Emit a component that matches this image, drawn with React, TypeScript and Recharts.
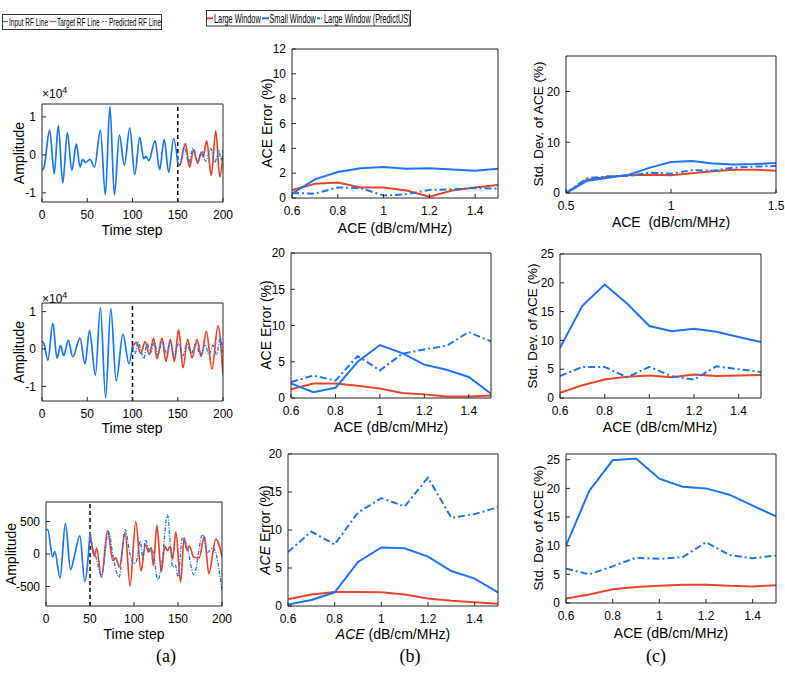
import React from "react";
import { LineChart, Line, XAxis, YAxis, ReferenceLine } from "recharts";

const FONT = '"Liberation Sans", Arial, Helvetica, sans-serif';
const BLUE = "#1c74f2";
const RED = "#e8442a";
const FRAME = "#262626";
const DASHDOT = "7 3 2 3";

// ---- column (a): RF lines, [time step, amplitude] read at extrema ----
const a1Input = [[0, -0.4], [2, -0.35], [8.5, 0.65], [13.5, -0.5], [18, 0.77], [23, -0.74], [28, 0.59], [33, -0.41], [38, 0.29], [42, -0.32], [45, -0.12], [48, -0.2], [53, -0.12], [58, -0.32], [64.5, 0.65], [70, -1.05], [75, 1.28], [80, -1.05], [85.5, 0.52], [91, -0.27], [97, 0.71], [102.5, -0.52], [108, 0.46], [112.5, -0.1], [115, -0.04], [118, -0.15], [125, 0.37], [130, -0.39], [135, 0.41], [140, -0.46], [145.5, 0.43], [150, -0.22]];
const a1Target = [[150, -0.22], [152, -0.28], [158.5, 0.3], [163, -0.32], [167.5, 0.13], [172, -0.22], [176, 0.05], [178, -0.05], [182, 0.37], [187, -0.54], [192, 0.63], [196.5, -0.58], [200, -0.02]];
const a1Pred = [[150, -0.22], [152, -0.26], [157.5, 0.22], [162, -0.22], [167, 0.17], [172, -0.17], [176.5, 0.1], [181, -0.17], [186.5, 0.17], [191, -0.2], [195.5, 0.13], [198, -0.15], [200, 0.13]];

const a2Input = [[0, 0.2], [2, 0.15], [6.5, -0.3], [12, 0.69], [16.5, -0.24], [20.5, 0.09], [24, -0.18], [29, 0.23], [34, -0.21], [42, 0.29], [47.5, -0.4], [52.5, 0.49], [59, -0.7], [64.5, 1.11], [70.3, -1.3], [76, 1.08], [82, -0.85], [89.5, 0.4], [96, -0.39], [100, 0.1]];
const a2Target = [[100, 0.05], [104.5, 0.18], [109, -0.12], [114, 0.2], [118.6, -0.15], [123.4, 0.29], [127, -0.26], [132.6, 0.29], [137, -0.33], [141.8, 0.26], [146.2, -0.33], [151, 0.51], [155.8, -0.5], [161, 0.26], [165.7, -0.24], [171.3, 0.25], [176, -0.19], [181.6, 0.47], [187.8, -0.53], [194.5, 0.62], [200, -0.7]];
const a2Pred = [[100, 0.1], [103, -0.12], [106, 0.2], [110, -0.1], [112.5, -0.26], [116, 0.15], [120, -0.1], [124, 0.18], [128, -0.15], [133, 0.2], [137.5, -0.1], [142, 0.18], [146, -0.2], [151, 0.15], [155.5, -0.18], [160, 0.12], [165, -0.12], [170, 0.15], [175, -0.18], [180, 0.12], [184.5, -0.15], [189, 0.1], [193, -0.15], [197, 0.28], [200, -0.1]];

const a3Input = [[0, 370], [2, 375], [7.5, -46], [10, 41], [16, -370], [22, 467], [28, -240], [32, -50], [38.5, 280], [44, -420], [50, 330]];
const a3Target = [[50, 330], [53, 60], [55, -30], [57.5, 90], [63, -360], [70, 360], [76, -100], [79, -60], [83.5, -200], [90, 330], [95.5, -490], [102, 500], [108, -260], [113, 150], [116.5, 30], [119.5, 100], [122, -180], [126, 440], [131, -270], [135, 120], [138, 50], [141, 120], [144, -80], [147.5, 340], [153, -430], [157, 250], [160, 60], [163, 120], [168, -50], [174, -60], [180, 270], [185, -300], [193, 230], [200, -40]];
const a3Pred = [[50, 330], [53, 100], [57, -60], [63, -330], [71, 340], [77, -100], [83, -360], [90, 380], [95, 20], [100, -150], [103, -100], [107, 200], [110, -50], [113, 220], [118, 30], [121, 60], [127, -400], [132, -100], [138, 600], [144, -200], [147, -170], [150, -350], [155, 250], [160, 130], [168, -320], [178, 300], [183, 20], [190, 100], [200, -560]];

// ---- columns (b) and (c): ACE error / std. dev. ----
const aceX = [0.6, 0.7, 0.8, 0.9, 1.0, 1.1, 1.2, 1.3, 1.4, 1.5];
const aceX5 = [0.5, 0.6, 0.7, 0.8, 0.9, 1.0, 1.1, 1.2, 1.3, 1.4, 1.5];

const b1Large = [0.65, 1.15, 1.25, 0.85, 0.85, 0.6, 0.1, 0.6, 0.85, 1.05];
const b1Small = [0.35, 1.5, 2.1, 2.4, 2.5, 2.35, 2.4, 2.3, 2.2, 2.35];
const b1Pred = [0.4, 0.35, 0.85, 0.8, 0.2, 0.3, 0.65, 0.7, 0.8, 0.75];

const b2Large = [1.2, 2.0, 2.0, 1.7, 1.3, 0.7, 0.5, 0.2, 0.2, 0.35];
const b2Small = [2.0, 0.8, 1.4, 5.0, 7.3, 6.2, 4.6, 3.9, 2.9, 0.6];
const b2Pred = [2.2, 3.1, 2.4, 5.8, 3.8, 6.1, 6.7, 7.2, 9.1, 7.8];

const b3Large = [0.9, 1.5, 1.85, 1.85, 1.8, 1.5, 1.0, 0.7, 0.5, 0.3];
const b3Small = [0.2, 0.8, 1.8, 5.8, 7.7, 7.6, 6.5, 4.6, 3.6, 1.8];
const b3Pred = [7.1, 9.8, 8.1, 12.3, 14.2, 13.1, 16.9, 11.6, 12.1, 13.0];

const c1Large = [0, 2.6, 3.2, 3.5, 3.6, 3.5, 3.9, 4.3, 4.6, 4.6, 4.4];
const c1Small = [0, 2.4, 3.0, 3.6, 5.0, 6.1, 6.3, 5.8, 5.6, 5.7, 5.9];
const c1Pred = [0, 2.9, 3.3, 3.4, 4.0, 3.8, 4.5, 4.4, 5.0, 5.2, 5.3];

const c2Large = [0.9, 2.2, 3.2, 3.7, 3.9, 3.6, 4.1, 3.8, 3.9, 4.0];
const c2Small = [8.7, 16.0, 19.7, 16.4, 12.5, 11.6, 12.0, 11.5, 10.6, 9.7];
const c2Pred = [3.8, 5.4, 5.4, 3.6, 5.4, 3.8, 3.2, 5.5, 5.0, 4.5];

const c3Large = [0.8, 1.5, 2.4, 2.8, 3.0, 3.2, 3.2, 3.0, 2.9, 3.1];
const c3Small = [10.0, 19.6, 24.9, 25.2, 21.7, 20.3, 20.0, 18.9, 17.0, 15.1];
const c3Pred = [6.0, 5.0, 6.4, 7.9, 7.7, 8.0, 10.6, 8.4, 7.8, 8.3];

const aceTicks = [0.6, 0.8, 1, 1.2, 1.4];
const timeTicks = [0, 50, 100, 150, 200];

const pts = (arr: number[][]) => arr.map(([x, y]) => ({ x, y }));
const table = (xs: number[], large: number[], small: number[], pred: number[]) =>
  xs.map((x, i) => ({ x, large: large[i], small: small[i], pred: pred[i] }));

type Box = { l: number; t: number; w: number; h: number };
type Series = { key: string; data?: any[]; color: string; width: number; dash?: string; curve?: "linear" | "monotone" };

const tickStyle = { fill: "#000", fontSize: 12, fontFamily: FONT };

function Panel(props: {
  box: Box; rows?: any[]; xDomain: number[]; xTicks: number[]; yDomain: number[]; yTicks: number[];
  series: Series[]; refX?: number;
}) {
  const { box, rows, xDomain, xTicks, yDomain, yTicks, series, refX } = props;
  const L = 50, T = 10, R = 14, B = 28;
  return (
    <div style={{ position: "absolute", left: box.l - L, top: box.t - T }}>
      <LineChart width={box.w + L + R} height={box.h + T + B} data={rows} margin={{ top: T - 1, right: R - 1, bottom: 0, left: 0 }}>
        <XAxis xAxisId="b" type="number" dataKey="x" domain={xDomain} ticks={xTicks} interval={0} allowDataOverflow
          height={B} tickSize={-4} tickMargin={12} stroke={FRAME} tick={tickStyle} />
        <XAxis xAxisId="t" orientation="top" type="number" dataKey="x" domain={xDomain} ticks={xTicks} interval={0} allowDataOverflow
          height={1} tickSize={-4} tick={false} stroke={FRAME} />
        <YAxis yAxisId="l" type="number" domain={yDomain} ticks={yTicks} interval={0} allowDataOverflow
          width={L} tickSize={-4} tickMargin={10} stroke={FRAME} tick={tickStyle} />
        <YAxis yAxisId="r" orientation="right" type="number" domain={yDomain} ticks={yTicks} interval={0} allowDataOverflow
          width={1} tickSize={-4} tick={false} stroke={FRAME} />
        {refX !== undefined && (
          <ReferenceLine xAxisId="b" yAxisId="l" x={refX} stroke="#000" strokeDasharray="4 3" strokeWidth={1.5} />
        )}
        {series.map((s, i) => (
          <Line key={i} xAxisId="b" yAxisId="l" data={s.data} dataKey={s.key} type={s.curve || "linear"}
            stroke={s.color} strokeWidth={s.width} strokeDasharray={s.dash} dot={false} activeDot={false}
            isAnimationActive={false} />
        ))}
      </LineChart>
    </div>
  );
}

function Txt(props: { x: number; y: number; rot?: boolean; size?: number; children: React.ReactNode; family?: string }) {
  const { x, y, rot, size = 14, children, family = FONT } = props;
  return (
    <div style={{
      position: "absolute", left: x, top: y, whiteSpace: "nowrap", lineHeight: 1, fontSize: size, fontFamily: family,
      color: "#000", transform: `translate(-50%, -50%)${rot ? " rotate(-90deg)" : ""}`,
    }}>{children}</div>
  );
}

const aSeries = (inp: number[][], tgt: number[][], prd: number[][]): Series[] => [
  { key: "y", data: pts(inp), color: BLUE, width: 1.7, curve: "monotone" },
  { key: "y", data: pts(tgt), color: RED, width: 1.7, curve: "monotone" },
  { key: "y", data: pts(prd), color: BLUE, width: 1.3, dash: "4 1.5 1 1.5", curve: "monotone" },
];

const aceSeries: Series[] = [
  { key: "large", color: RED, width: 2 },
  { key: "small", color: BLUE, width: 2 },
  { key: "pred", color: BLUE, width: 2, dash: DASHDOT },
];

// condensed legend text, like the squeezed MATLAB legend
function LegText(props: { x: number; y: number; size: number; sx: number; children: string }) {
  return (
    <text transform={`translate(${props.x} ${props.y}) scale(${props.sx} 1)`} x={0} y={0}
      fontSize={props.size} fontFamily={FONT} fill="#000">{props.children}</text>
  );
}

function Legends() {
  return (
    <svg width={420} height={34} style={{ position: "absolute", left: 0, top: 0 }}>
      <rect x={2.5} y={14.5} width={159} height={15} fill="#fff" stroke="#333" strokeWidth={1} />
      <line x1={3} x2={8} y1={21.5} y2={21.5} stroke={BLUE} strokeWidth={1.2} />
      <LegText x={9} y={26} size={10.5} sx={0.62}>Input RF Line</LegText>
      <line x1={50} x2={56} y1={21.5} y2={21.5} stroke={RED} strokeWidth={1.2} />
      <LegText x={57} y={26} size={10.5} sx={0.62}>Target RF Line</LegText>
      <line x1={102} x2={108} y1={21.5} y2={21.5} stroke={BLUE} strokeWidth={1.2} strokeDasharray="2 1" />
      <LegText x={109} y={26} size={10.5} sx={0.62}>Predicted RF Line</LegText>

      <rect x={206.5} y={10.5} width={204} height={15.5} fill="#fff" stroke="#333" strokeWidth={1} />
      <line x1={207} x2={213} y1={18.3} y2={18.3} stroke={RED} strokeWidth={2} />
      <LegText x={214} y={22.5} size={12} sx={0.61}>Large Window</LegText>
      <line x1={262} x2={269} y1={18.3} y2={18.3} stroke={BLUE} strokeWidth={2} />
      <LegText x={269.5} y={22.5} size={12} sx={0.61}>Small Window</LegText>
      <line x1={317} x2={323} y1={18.3} y2={18.3} stroke={BLUE} strokeWidth={2} strokeDasharray="3 1 1 1" />
      <LegText x={324} y={22.5} size={12} sx={0.61}>Large Window (PredictUS)</LegText>
    </svg>
  );
}

export default function App() {
  const A1: Box = { l: 42, t: 104, w: 181, h: 98 };
  const A2: Box = { l: 42, t: 303, w: 181, h: 98 };
  const A3: Box = { l: 46, t: 502, w: 176, h: 104 };
  const B1: Box = { l: 292, t: 49, w: 206, h: 149 };
  const B2: Box = { l: 291, t: 253, w: 200, h: 145 };
  const B3: Box = { l: 288, t: 454, w: 210, h: 152 };
  const C1: Box = { l: 566, t: 56, w: 210, h: 137 };
  const C2: Box = { l: 560, t: 254, w: 201, h: 144 };
  const C3: Box = { l: 566, t: 454, w: 210, h: 149 };
  const serif = '"Liberation Serif", "Times New Roman", serif';
  return (
    <div style={{ position: "absolute", left: 0, top: 0, width: 785, height: 692, background: "#fff", overflow: "hidden" }}>
      <Panel box={A1} xDomain={[0, 200]} xTicks={timeTicks} yDomain={[-1.24, 1.34]} yTicks={[-1, 0, 1]}
        series={aSeries(a1Input, a1Target, a1Pred)} refX={150} />
      <Panel box={A2} xDomain={[0, 200]} xTicks={timeTicks} yDomain={[-1.39, 1.23]} yTicks={[-1, 0, 1]}
        series={aSeries(a2Input, a2Target, a2Pred)} refX={100} />
      <Panel box={A3} xDomain={[0, 200]} xTicks={timeTicks} yDomain={[-800, 800]} yTicks={[-500, 0, 500]}
        series={aSeries(a3Input, a3Target, a3Pred)} refX={50} />

      <Panel box={B1} rows={table(aceX, b1Large, b1Small, b1Pred)} xDomain={[0.6, 1.5]} xTicks={aceTicks}
        yDomain={[0, 12]} yTicks={[0, 2, 4, 6, 8, 10, 12]} series={aceSeries} />
      <Panel box={B2} rows={table(aceX, b2Large, b2Small, b2Pred)} xDomain={[0.6, 1.5]} xTicks={aceTicks}
        yDomain={[0, 20]} yTicks={[0, 5, 10, 15, 20]} series={aceSeries} />
      <Panel box={B3} rows={table(aceX, b3Large, b3Small, b3Pred)} xDomain={[0.6, 1.5]} xTicks={aceTicks}
        yDomain={[0, 20]} yTicks={[0, 5, 10, 15, 20]} series={aceSeries} />

      <Panel box={C1} rows={table(aceX5, c1Large, c1Small, c1Pred)} xDomain={[0.5, 1.5]} xTicks={[0.5, 1, 1.5]}
        yDomain={[0, 27]} yTicks={[0, 10, 20]} series={aceSeries} />
      <Panel box={C2} rows={table(aceX, c2Large, c2Small, c2Pred)} xDomain={[0.6, 1.5]} xTicks={aceTicks}
        yDomain={[0, 25]} yTicks={[0, 5, 10, 15, 20, 25]} series={aceSeries} />
      <Panel box={C3} rows={table(aceX, c3Large, c3Small, c3Pred)} xDomain={[0.6, 1.5]} xTicks={aceTicks}
        yDomain={[0, 26]} yTicks={[0, 5, 10, 15, 20, 25]} series={aceSeries} />

      {/* exponent marks */}
      <div style={{ position: "absolute", left: 42, top: 86, fontFamily: FONT, fontSize: 12, lineHeight: 1 }}>
        ×10<sup style={{ fontSize: 9 }}>4</sup>
      </div>
      <div style={{ position: "absolute", left: 42, top: 291, fontFamily: FONT, fontSize: 12, lineHeight: 1 }}>
        ×10<sup style={{ fontSize: 9 }}>4</sup>
      </div>

      {/* axis titles */}
      <Txt x={19} y={153} rot>Amplitude</Txt>
      <Txt x={19} y={352} rot>Amplitude</Txt>
      <Txt x={11} y={554} rot>Amplitude</Txt>
      <Txt x={132} y={230}>Time step</Txt>
      <Txt x={132} y={428}>Time step</Txt>
      <Txt x={134} y={634}>Time step</Txt>

      <Txt x={267} y={123} rot>ACE Error (%)</Txt>
      <Txt x={266} y={325} rot>ACE Error (%)</Txt>
      <Txt x={265} y={530} rot><i>ACE</i> Error (%)</Txt>
      <Txt x={395} y={228}>ACE (dB/cm/MHz)</Txt>
      <Txt x={391} y={427}>ACE (dB/cm/MHz)</Txt>
      <Txt x={393} y={634}><i>ACE</i> (dB/cm/MHz)</Txt>

      <Txt x={539} y={124} rot size={13.5}>Std. Dev. of ACE (%)</Txt>
      <Txt x={533} y={326} rot size={13.5}>Std. Dev. of ACE (%)</Txt>
      <Txt x={539} y={528} rot size={13.5}>Std. Dev. of ACE (%)</Txt>
      <Txt x={671} y={222}>ACE&nbsp;&nbsp;(dB/cm/MHz)</Txt>
      <Txt x={660} y={427}>ACE (dB/cm/MHz)</Txt>
      <Txt x={671} y={633}>ACE (dB/cm/MHz)</Txt>

      <Txt x={166} y={656} size={18} family={serif}>(a)</Txt>
      <Txt x={410} y={656} size={18} family={serif}>(b)</Txt>
      <Txt x={656} y={656} size={18} family={serif}>(c)</Txt>

      <Legends />
    </div>
  );
}
